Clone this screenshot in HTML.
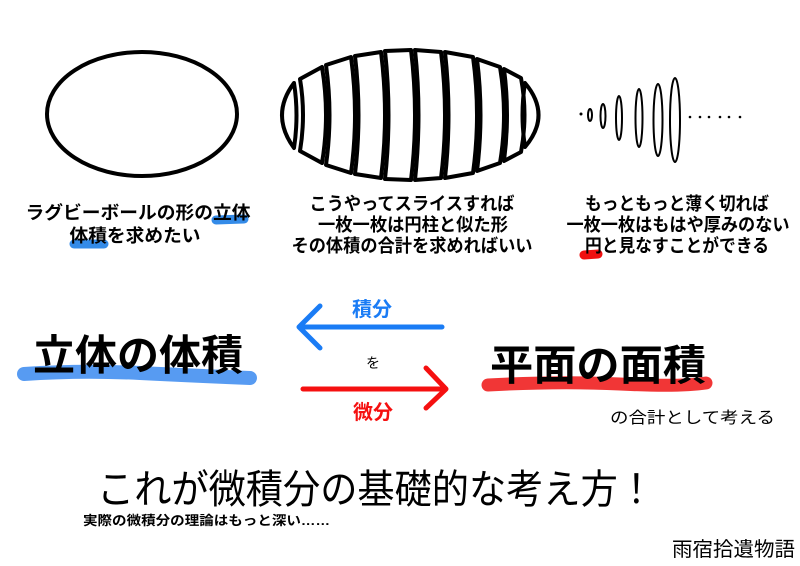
<!DOCTYPE html>
<html><head><meta charset="utf-8"><style>
html,body{margin:0;padding:0;background:#fff;}
svg{display:block;}
text{font-family:"Liberation Sans","Noto Sans CJK JP",sans-serif;}
</style></head><body>
<svg width="800" height="566" viewBox="0 0 800 566" xmlns="http://www.w3.org/2000/svg">
<rect width="800" height="566" fill="#fff"/>
<ellipse cx="142" cy="114" rx="95" ry="62" fill="none" stroke="#000" stroke-width="4"/>
<g fill="none" stroke="#000" stroke-width="4" stroke-linejoin="round">
<path d="M294,83 Q270,115 294,148 Q299,115 294,83 Z"/>
<path d="M300,79 L322,67 Q330,115 322,163 L300,151 Q306,115 300,79 Z"/>
<path d="M326,65 L351,57 Q359,115 351,173 L326,165 Q333,115 326,65 Z"/>
<path d="M355,56 L381,52 Q389,115 381,178 L355,174 Q362,115 355,56 Z"/>
<path d="M385,51 L411,50 Q419,115 411,180 L385,179 Q392,115 385,51 Z"/>
<path d="M415,50 L441,52 Q449,115 441,178 L415,180 Q422,115 415,50 Z"/>
<path d="M445,52 L473,57 Q481,115 473,173 L445,178 Q452,115 445,52 Z"/>
<path d="M477,59 L500,67 Q508,115 500,163 L477,171 Q484,115 477,59 Z"/>
<path d="M504,69 L521,78 Q528,115 521,152 L504,161 Q510,115 504,69 Z"/>
<path d="M525,83 Q520,115 525,147 Q552,115 525,83 Z"/>
</g>
<g fill="none" stroke="#000" stroke-width="2">
<ellipse cx="590" cy="115" rx="2" ry="6"/>
<ellipse cx="603" cy="116" rx="2.5" ry="12"/>
<ellipse cx="619" cy="118" rx="3" ry="22"/>
<ellipse cx="639" cy="118" rx="3.5" ry="29"/>
<ellipse cx="658" cy="120" rx="4.5" ry="36"/>
<ellipse cx="675" cy="120" rx="5" ry="42"/>
</g>
<g fill="#000">
<circle cx="581" cy="114" r="1.5"/>
<circle cx="690" cy="117" r="1.3"/><circle cx="700" cy="117" r="1.3"/><circle cx="709" cy="117" r="1.3"/>
<circle cx="720" cy="117" r="1.3"/><circle cx="729" cy="117" r="1.3"/><circle cx="740" cy="117" r="1.3"/>
</g>
<path d="M216,220 L244,219" stroke="#1f7fe6" stroke-width="9" stroke-linecap="round" opacity="0.9"/>
<path d="M74,244 L104,244" stroke="#1f7fe6" stroke-width="9" stroke-linecap="round" opacity="0.9"/>
<path d="M584,255 L598,254" stroke="#f01010" stroke-width="9" stroke-linecap="round"/>
<g font-size="18" fill="#000" text-anchor="middle" font-weight="bold">
<text x="138" y="219" textLength="225" lengthAdjust="spacingAndGlyphs">ラグビーボールの形の立体</text>
<text x="135" y="242" textLength="131" lengthAdjust="spacingAndGlyphs">体積を求めたい</text>
<text x="412" y="210" textLength="205" lengthAdjust="spacingAndGlyphs">こうやってスライスすれば</text>
<text x="413" y="231" textLength="190" lengthAdjust="spacingAndGlyphs">一枚一枚は円柱と似た形</text>
<text x="412" y="252" textLength="241" lengthAdjust="spacingAndGlyphs">その体積の合計を求めればいい</text>
<text x="677" y="210" textLength="184" lengthAdjust="spacingAndGlyphs">もっともっと薄く切れば</text>
<text x="678" y="231" textLength="223" lengthAdjust="spacingAndGlyphs">一枚一枚はもはや厚みのない</text>
<text x="677" y="252" textLength="184" lengthAdjust="spacingAndGlyphs">円と見なすことができる</text>
</g>
<path d="M24,374 Q80,370 140,373 T250,378" stroke="#3a8af0" stroke-width="14" stroke-linecap="round" fill="none" opacity="0.85"/>
<path d="M488,385 Q560,381 620,384 T706,383" stroke="#f02020" stroke-width="13" stroke-linecap="round" fill="none" opacity="0.9"/>
<g font-size="42" font-weight="bold" fill="#000">
<text x="33" y="370" textLength="210" lengthAdjust="spacingAndGlyphs">立体の体積</text>
<text x="490" y="380" textLength="216" lengthAdjust="spacingAndGlyphs">平面の面積</text>
</g>
<g fill="none" stroke-linecap="round" stroke-linejoin="round" stroke-width="5">
<path d="M442,327 L299,327 M320,306 L299,327 L320,348" stroke="#1a7cf5"/>
<path d="M303,389 L446,389 M426,368 L446,389 L426,408" stroke="#f51010"/>
</g>
<text x="372" y="316" font-size="20" font-weight="bold" fill="#1a7cf5" text-anchor="middle">積分</text>
<text x="373" y="368" font-size="14" fill="#000" text-anchor="middle">を</text>
<text x="373" y="419" font-size="20" font-weight="bold" fill="#f51010" text-anchor="middle">微分</text>
<text x="610" y="423" font-size="16" fill="#000" textLength="165" lengthAdjust="spacingAndGlyphs">の合計として考える</text>
<text x="97" y="503" font-size="40" fill="#000" textLength="558" lengthAdjust="spacingAndGlyphs">これが微積分の基礎的な考え方！</text>
<text x="83" y="525" font-size="13" font-weight="bold" fill="#000" textLength="247" lengthAdjust="spacingAndGlyphs">実際の微積分の理論はもっと深い……</text>
<text x="672" y="556" font-size="20" fill="#000" textLength="123" lengthAdjust="spacingAndGlyphs">雨宿拾遺物語</text>
</svg>
</body></html>
